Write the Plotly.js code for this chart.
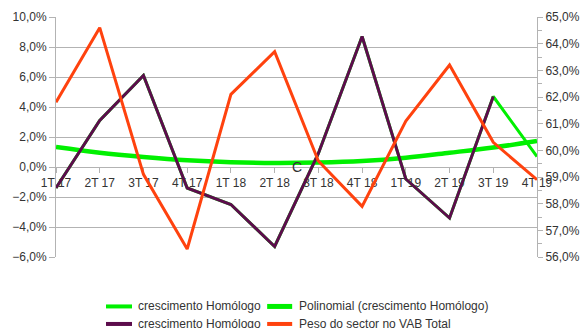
<!DOCTYPE html>
<html>
<head>
<meta charset="utf-8">
<script src="https://cdn.plot.ly/plotly-3.0.1.min.js"></script>
<style>html,body{margin:0;padding:0;background:#fff;}#chart{width:581px;height:328px;}</style>
</head>
<body>
<div id="chart"></div>
<script>
var categories = ["1T 17","2T 17","3T 17","4T 17","1T 18","2T 18","3T 18","4T 18","1T 19","2T 19","3T 19","4T 19"];
// crescimento Homólogo (%), left axis
var crescimentoVerde = [-1.4, 3.1, 6.1, -1.4, -2.5, -5.3, 0.9, 8.7, -0.8, -3.4, 4.7, 0.7];
var crescimentoRoxo  = [-1.4, 3.1, 6.1, -1.4, -2.5, -5.3, 0.9, 8.7, -0.8, -3.4, 4.7, null];
// Polinomial (crescimento Homólogo) trend (%)
var tendencia = [1.33, 0.95, 0.67, 0.45, 0.32, 0.27, 0.3, 0.4, 0.62, 0.95, 1.3, 1.73];
// Peso do sector no VAB Total (%), right axis
var pesoVAB = [61.8, 64.6, 59.1, 56.3, 62.1, 63.7, 59.6, 57.9, 61.1, 63.2, 60.3, 58.9];

var legendNames = ["crescimento Homólogo","Polinomial (crescimento Homólogo)","crescimento Homólogo","Peso do sector no VAB Total"];
var colors = {green:"#00f000", purple:"#5c0c4c", orange:"#ff420e"};

var traces = [
  {x:categories, y:crescimentoVerde, name:legendNames[0], type:"scatter", mode:"lines",
   line:{color:colors.green, width:3}, yaxis:"y", showlegend:false},
  {x:categories, y:tendencia, name:legendNames[1], type:"scatter", mode:"lines",
   line:{color:colors.green, width:4.5, shape:"spline"}, yaxis:"y", showlegend:false},
  {x:categories, y:crescimentoRoxo, name:legendNames[2], type:"scatter", mode:"lines",
   line:{color:colors.purple, width:3}, yaxis:"y", showlegend:false},
  {x:categories, y:pesoVAB, name:legendNames[3], type:"scatter", mode:"lines",
   line:{color:colors.orange, width:3}, yaxis:"y2", showlegend:false}
];

var gray = "#b3b3b3";
var font = {family:"Liberation Sans, Arial, sans-serif", size:12, color:"#333333"};

// manual legend (paper coordinates)
var legendItems = [
  {col:0,row:0,color:colors.green,text:legendNames[0],w:4},
  {col:1,row:0,color:colors.green,text:legendNames[1],w:5},
  {col:0,row:1,color:colors.purple,text:legendNames[2],w:4},
  {col:1,row:1,color:colors.orange,text:legendNames[3],w:4}
];
var colX = [[0.104,0.158,0.166],[0.439,0.491,0.5]];
var rowY = [-0.206,-0.279];
var shapes = [], annotations = [];
legendItems.forEach(function(it){
  var c = colX[it.col], y = rowY[it.row];
  shapes.push({type:"line", xref:"paper", yref:"paper", x0:c[0], x1:c[1], y0:y, y1:y,
    line:{color:it.color, width:it.w}});
  annotations.push({xref:"paper", yref:"paper", x:c[2], y:y, xanchor:"left", yanchor:"middle",
    text:it.text, showarrow:false, font:font});
});
annotations.push({xref:"x", yref:"y", x:5.5, y:0, text:"C", showarrow:false,
  xanchor:"center", yanchor:"middle", font:{family:font.family, size:14, color:"#333333"}});

var layout = {
  width:581, height:328,
  margin:{l:56, r:44, t:17, b:71},
  paper_bgcolor:"#ffffff", plot_bgcolor:"#ffffff",
  separators:", ",
  font:font,
  showlegend:false,
  xaxis:{type:"category", range:[0,11], anchor:"free", position:0.375,
    showline:true, linecolor:gray, linewidth:1, ticks:"outside", ticklen:5, tickcolor:gray,
    showgrid:false, zeroline:false, layer:"below traces", tickfont:font},
  yaxis:{range:[-6,10], dtick:2, tick0:0, tickformat:".1f", ticksuffix:"%",
    showgrid:true, gridcolor:gray, gridwidth:1, zeroline:false,
    showline:true, linecolor:gray, ticks:"outside", ticklen:6, tickcolor:gray, tickfont:font},
  yaxis2:{range:[56,65], dtick:1, tick0:56, tickformat:".1f", ticksuffix:"%",
    overlaying:"y", side:"right", showgrid:false, zeroline:false,
    showline:true, linecolor:gray, ticks:"outside", ticklen:5, tickcolor:gray, tickfont:font,
    minor:{dtick:0.5, ticks:"outside", ticklen:4, tickcolor:gray, showgrid:false}},
  shapes:shapes,
  annotations:annotations
};

Plotly.newPlot("chart", traces, layout, {displayModeBar:false, staticPlot:true});
</script>
</body>
</html>
